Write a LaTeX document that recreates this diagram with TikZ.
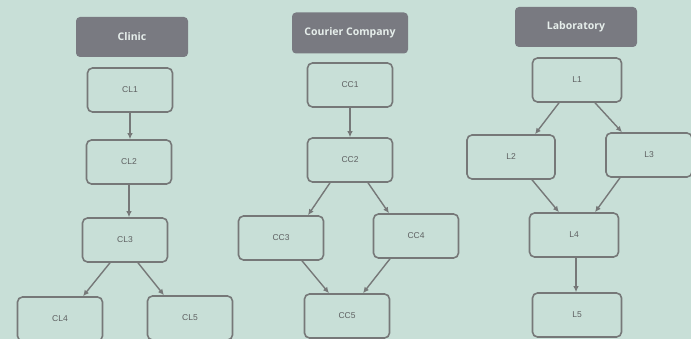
\documentclass[tikz,border=0pt]{standalone}
\usepackage{fontspec}
\setmainfont{Liberation Sans}
\newfontfamily\headfont{Open Sans}
\usetikzlibrary{arrows.meta}
\definecolor{bgmint}{HTML}{C8DFD7}
\definecolor{edgegray}{HTML}{767878}
\definecolor{headfill}{HTML}{797A81}
\definecolor{headtext}{HTML}{E6EEEB}
\definecolor{labelgray}{HTML}{5E6061}
\tikzset{
  stepbox/.style={draw=edgegray, line width=1.6pt, rounded corners=5pt,
    minimum width=85pt, minimum height=44pt, inner sep=0pt,
    font=\fontsize{8.5}{10}\selectfont, text=labelgray},
  headbox/.style={fill=headfill, rounded corners=4pt, inner sep=0pt,
    minimum height=40pt, font=\headfont\bfseries\fontsize{10.5}{12}\selectfont, text=headtext},
  arr/.style={draw=edgegray, line width=1.4pt, -{Latex[length=6pt,width=5.5pt]}}
}
\begin{document}
\begin{tikzpicture}[x=1pt,y=-1pt]
\fill[bgmint] (0,0) rectangle (691,339);
\useasboundingbox (0,0) rectangle (691,339);

% column headers
\node[headbox, minimum width=112pt] (hcl) at (132,37) {Clinic};
\node[headbox, minimum width=116pt, minimum height=41pt] (hcc) at (350,33) {Courier Company};
\node[headbox, minimum width=122pt] (hl) at (576,27) {Laboratory};

% clinic chain
\node[stepbox] (CL1) at (130,90) {CL1};
\node[stepbox] (CL2) at (129,162) {CL2};
\node[stepbox] (CL3) at (125,240) {CL3};
\node[stepbox] (CL4) at (60,319) {CL4};
\node[stepbox] (CL5) at (190,318) {CL5};

% courier company chain
\node[stepbox] (CC1) at (350,85) {CC1};
\node[stepbox] (CC2) at (350,160) {CC2};
\node[stepbox] (CC3) at (281,238) {CC3};
\node[stepbox] (CC4) at (416,236) {CC4};
\node[stepbox] (CC5) at (347,316) {CC5};

% laboratory chain
\node[stepbox, minimum width=89pt] (L1) at (577,80) {L1};
\node[stepbox, minimum width=88pt] (L2) at (511,157) {L2};
\node[stepbox, minimum width=86pt] (L3) at (649,155) {L3};
\node[stepbox, minimum width=89pt] (L4) at (574,235) {L4};
\node[stepbox, minimum width=89pt] (L5) at (577,315) {L5};

% clinic connectors
\draw[arr] (CL1.south) -- (CL1.south |- CL2.north);
\draw[arr] (CL2.south) -- (CL2.south |- CL3.north);
\draw[arr] ([xshift=-15pt]CL3.south) -- ([xshift=23pt]CL4.north);
\draw[arr] ([xshift=13pt]CL3.south) -- ([xshift=-26pt]CL5.north);

% courier connectors
\draw[arr] (CC1.south) -- (CC2.north);
\draw[arr] ([xshift=-20pt]CC2.south) -- ([xshift=27pt]CC3.north);
\draw[arr] ([xshift=18pt]CC2.south) -- ([xshift=-27pt]CC4.north);
\draw[arr] ([xshift=21pt]CC3.south) -- ([xshift=-18pt]CC5.north);
\draw[arr] ([xshift=-26pt]CC4.south) -- ([xshift=16pt]CC5.north);

% laboratory connectors
\draw[arr] ([xshift=-18pt]L1.south) -- ([xshift=24pt]L2.north);
\draw[arr] ([xshift=18pt]L1.south) -- ([xshift=-27pt]L3.north);
\draw[arr] ([xshift=21pt]L2.south) -- ([xshift=-15pt]L4.north);
\draw[arr] ([xshift=-29pt]L3.south) -- ([xshift=21pt]L4.north);
\draw[arr] ([xshift=2pt]L4.south) -- ([xshift=2pt]L4.south |- L5.north);
\end{tikzpicture}
\end{document}
